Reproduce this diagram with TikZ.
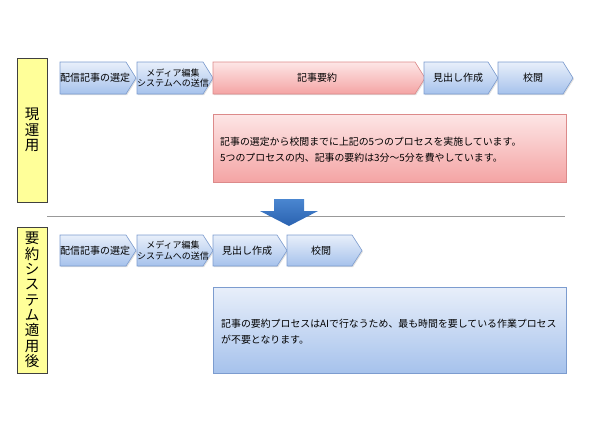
\documentclass[tikz,border=0pt]{standalone}
\usepackage{fontspec}
\setmainfont{Noto Sans CJK JP}
\usetikzlibrary{shadows}
\definecolor{bluetop}{HTML}{E8EFFA}
\definecolor{bluebot}{HTML}{A6C2EC}
\definecolor{blueline}{HTML}{7C9CCF}
\definecolor{redtop}{HTML}{FDE6E6}
\definecolor{redbot}{HTML}{F4A4A4}
\definecolor{redline}{HTML}{DC8A8A}
\definecolor{yel}{HTML}{FFFF99}
\definecolor{arrtop}{HTML}{4A86D0}
\definecolor{arrbot}{HTML}{2A62B0}
\newcommand\chevpath[4]{(#1,#3) -- (#2-10,#3) -- (#2,{(#3+#4)/2}) -- (#2-10,#4) -- (#1,#4) -- cycle}
\newcommand\tightls{\lineskiplimit=-100pt\relax\lineskip=0pt\relax}
\begin{document}
\begin{tikzpicture}[x=1pt,y=-1pt,
  bluebox/.style={top color=bluetop,bottom color=bluebot,draw=blueline,line width=0.6pt,
    drop shadow={shadow xshift=1pt,shadow yshift=-1.2pt,opacity=0.25}},
  redbox/.style={top color=redtop,bottom color=redbot,draw=redline,line width=0.6pt,
    drop shadow={shadow xshift=1pt,shadow yshift=-1.2pt,opacity=0.25}},
  yelbox/.style={fill=yel,draw=black!75,line width=0.8pt},
  lbl/.style={font=\fontsize{10}{11}\selectfont\tightls,align=center,inner sep=0pt,text=black},
  lbls/.style={font=\fontsize{9}{10.5}\selectfont\tightls,align=center,inner sep=0pt,text=black},
  desc/.style={font=\fontsize{9.9}{16}\selectfont\tightls,align=left,inner sep=0pt,anchor=west,text=black},
  vlabel/.style={font=\fontsize{14.5}{15.3}\selectfont\tightls,align=center,inner sep=0pt}
]
\useasboundingbox (0,0) rectangle (590,442);

% ---- current process ----
\draw[yelbox] (17,58) rectangle (47,202);
\node[vlabel] (lab1) at (32,130) {現\\運\\用};

\shade[bluebox] \chevpath{60}{136}{62}{94};
\node[lbl] (a1) at (95,78) {配信記事の選定};
\shade[bluebox] \chevpath{137}{213}{62}{94};
\node[lbls] (a2) at (173,78) {メディア編集\\システムへの送信};
\shade[redbox] \chevpath{213}{425}{62}{94};
\node[lbl] (a3) at (317,78) {記事要約};
\shade[bluebox] \chevpath{424}{498}{62}{94};
\node[lbl] (a4) at (458,78) {見出し作成};
\shade[bluebox] \chevpath{498}{573}{62}{94};
\node[lbl] (a5) at (533,78) {校閲};

\shade[redbox] (213,114) rectangle (566,182);
\node[desc] (d1) at (220,150) {記事の選定から校閲までに上記の5つのプロセスを実施しています。\\5つのプロセスの内、記事の要約は3分～5分を費やしています。};

% ---- separator and arrow ----
\draw[gray!80,line width=0.8pt] (47,216) coordinate (s1) -- (565,216) coordinate (s2);
\shade[top color=arrtop,bottom color=arrbot,draw=none]
  (274,199) -- (304,199) -- (304,211) -- (318,211) -- (289,226) -- (260,211) -- (274,211) -- cycle;

% ---- after system ----
\draw[yelbox] (17,227) rectangle (47,373);
\node[vlabel] (lab2) at (32,300) {要\\約\\シ\\ス\\テ\\ム\\適\\用\\後};

\shade[bluebox] \chevpath{60}{136}{235}{266};
\node[lbl] (b1) at (95,250.5) {配信記事の選定};
\shade[bluebox] \chevpath{137}{213}{235}{266};
\node[lbls] (b2) at (173,250.5) {メディア編集\\システムへの送信};
\shade[bluebox] \chevpath{213}{287}{235}{266};
\node[lbl] (b3) at (247,250.5) {見出し作成};
\shade[bluebox] \chevpath{287}{362}{235}{266};
\node[lbl] (b4) at (321,250.5) {校閲};

\shade[bluebox] (213,287) rectangle (566,373);
\node[desc] (d2) at (221,332) {記事の要約プロセスはAIで行なうため、最も時間を要している作業プロセス\\が不要となります。};
\end{tikzpicture}
\end{document}
